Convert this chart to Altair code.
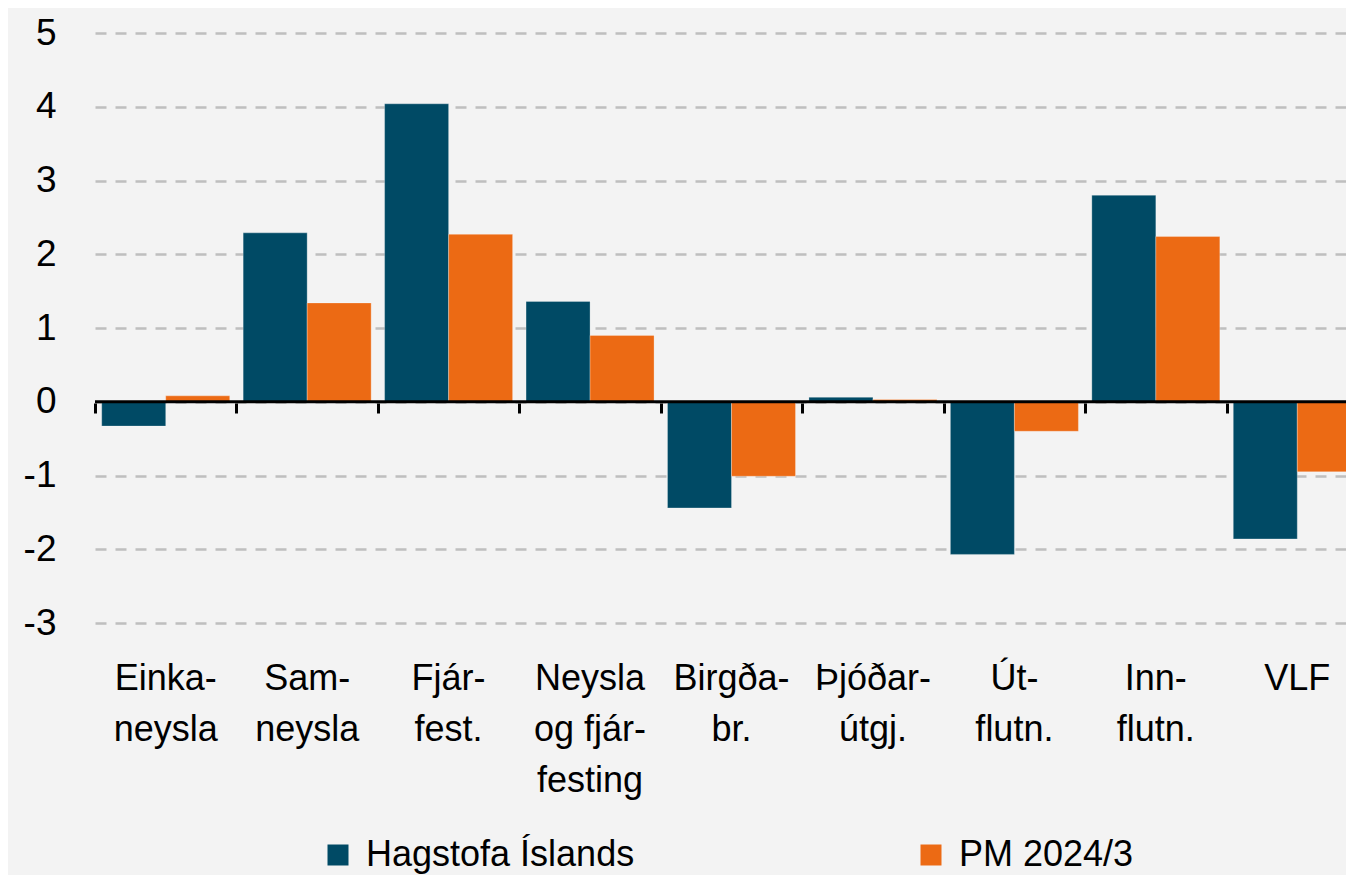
import altair as alt
import pandas as pd

categories = ["Einka-\nneysla", "Sam-\nneysla", "Fjár-\nfest.", "Neysla\nog fjár-\nfesting",
              "Birgða-\nbr.", "Þjóðar-\nútgj.", "Út-\nflutn.", "Inn-\nflutn.", "VLF"]
series_names = ["Hagstofa Íslands", "PM 2024/3"]
hagstofa = [-0.33, 2.29, 4.04, 1.36, -1.44, 0.06, -2.07, 2.80, -1.86]
pm = [0.08, 1.34, 2.27, 0.90, -1.01, 0.03, -0.40, 2.24, -0.95]
y_ticks = [-3, -2, -1, 0, 1, 2, 3, 4, 5]
colors = ["#004A65", "#EC6A14"]

rows = []
for c, h, p in zip(categories, hagstofa, pm):
    rows.append({"cat": c, "series": series_names[0], "value": h})
    rows.append({"cat": c, "series": series_names[1], "value": p})
df = pd.DataFrame(rows)

FONT = "Liberation Sans"

xscale = alt.Scale(domain=categories, paddingInner=0, paddingOuter=0)
yscale = alt.Scale(domain=[-3, 5], nice=False, zero=False)

bars = alt.Chart(df).mark_bar(stroke="#ffffff", strokeOpacity=0.35, strokeWidth=0.8).encode(
    x=alt.X("cat:N", scale=xscale, sort=categories, title=None,
            axis=alt.Axis(labelExpr="split(datum.label, '\\n')", labelAngle=0,
                          labelFontSize=36, labelFont=FONT, labelColor="#000000",
                          labelLineHeight=51, labelPadding=38, labelBaseline="top",
                          domain=False, ticks=False, grid=False, labelLimit=0)),
    xOffset=alt.XOffset("series:N", sort=series_names,
                        scale=alt.Scale(paddingInner=0, paddingOuter=0.105)),
    y=alt.Y("value:Q", scale=yscale, title=None,
            axis=alt.Axis(values=y_ticks, labelExpr="toString(datum.value)",
                          labelFontSize=37, labelFont=FONT,
                          labelColor="#000000", labelPadding=39, domain=False,
                          ticks=False, grid=True, gridColor="#BFBFBF",
                          gridDash=[11, 9], gridWidth=2.5)),
    color=alt.Color("series:N", sort=series_names,
                    scale=alt.Scale(domain=series_names, range=colors),
                    legend=alt.Legend(title=None, orient="none", legendX=225, legendY=804,
                                      direction="horizontal", columns=2, columnPadding=278,
                                      symbolType="square", symbolSize=441,
                                      symbolStrokeWidth=0, labelFontSize=36,
                                      labelFont=FONT, labelColor="#000000",
                                      labelOffset=10, labelLimit=0, padding=0,
                                      symbolOpacity=1)),
)

zero = alt.Chart(pd.DataFrame({"v": [0]})).mark_rule(color="#000000", strokeWidth=3).encode(
    y=alt.Y("v:Q", scale=yscale, axis=None),
)

# zero-line ticks at category boundaries
tick_axis = alt.Chart(df).mark_bar(opacity=0).encode(
    x=alt.X("cat:N", scale=xscale, sort=categories, title=None,
            axis=alt.Axis(orient="bottom", offset=-220, labels=False, domain=False,
                          ticks=True, tickBand="extent", tickSize=10, tickWidth=3,
                          tickColor="#000000", grid=False)),
    y=alt.Y("value:Q", scale=yscale, axis=None),
)

chart = alt.layer(bars, zero, tick_axis).resolve_axis(x="independent", y="independent").properties(
    width=1273, height=590,
    autosize=alt.AutoSizeParams(type="none"),
    padding={"left": 87, "top": 25, "right": -22, "bottom": 252},
    background="#F3F3F3",
).configure_view(stroke=None)

chart.save("out.html", embed_options={"renderer": "svg", "actions": False})
